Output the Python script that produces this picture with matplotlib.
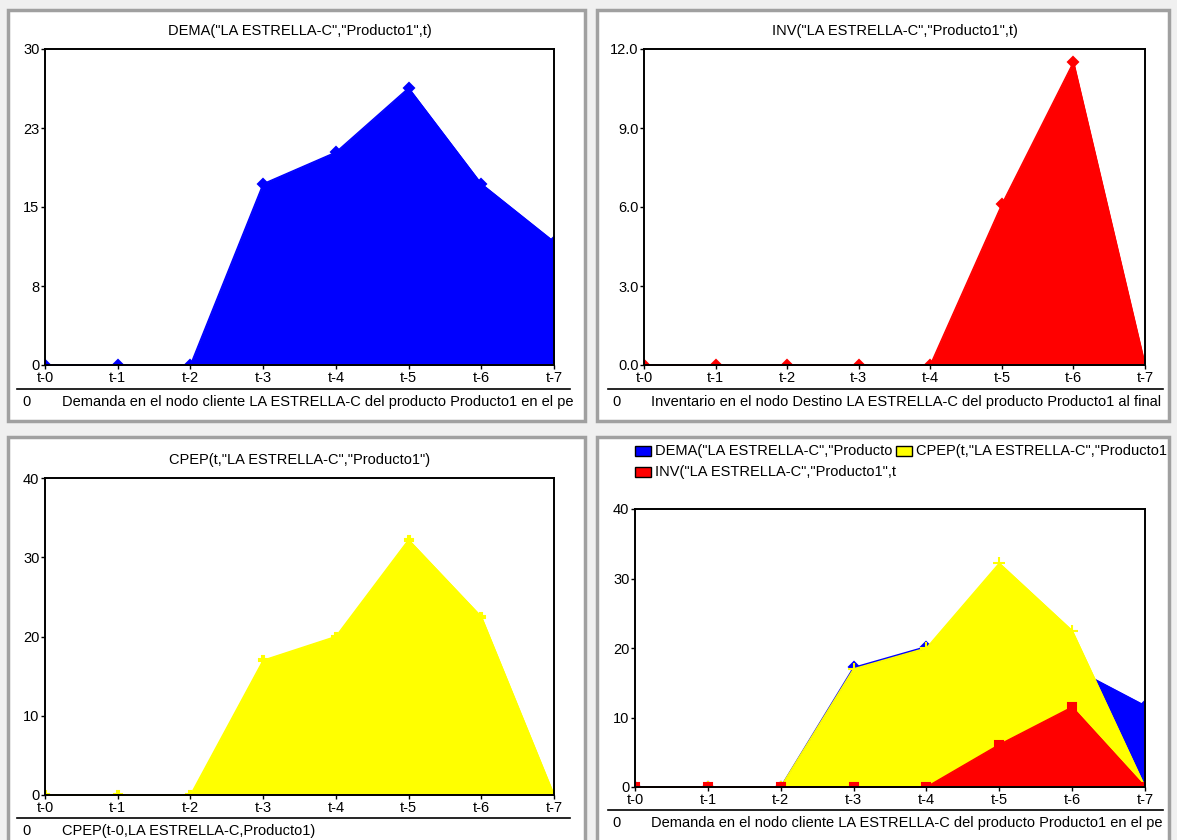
import matplotlib
matplotlib.use("Agg")
import matplotlib.pyplot as plt
from matplotlib.patches import Rectangle
from matplotlib.lines import Line2D

plt.rcParams['font.family'] = ['Liberation Sans', 'DejaVu Sans']

# datos (periodos t-0 .. t-7)
periodos = ["t-0", "t-1", "t-2", "t-3", "t-4", "t-5", "t-6", "t-7"]
dema = [0, 0, 0, 17.2, 20.2, 26.3, 17.2, 11.7]
inv = [0, 0, 0, 0, 0, 6.1, 11.5, 0]
cpep = [0, 0, 0, 17.0, 20.0, 32.2, 22.5, 0]

W, H = 1177, 840
FS = 10.5
fig = plt.figure(figsize=(W / 100, H / 100), dpi=100)
fig.patch.set_facecolor('#f0f0f0')


def fx(x):
    return x / W


def fy(y):
    return 1 - y / H


def panel(l, t, r, b):
    # ventana blanca con borde gris
    fig.add_artist(Rectangle((fx(l), fy(b)), fx(r - l), (b - t) / H,
                             transform=fig.transFigure, facecolor='white',
                             edgecolor='#a0a0a0', linewidth=2.5, zorder=-5))


def px_axes(l, t, r, b):
    ax = fig.add_axes([fx(l), fy(b), fx(r - l), (b - t) / H])
    ax.set_facecolor('white')
    for s in ax.spines.values():
        s.set_linewidth(1.4)
        s.set_color('black')
        s.set_zorder(20)
    ax.set_xlim(0, len(periodos) - 1)
    ax.set_xticks(range(len(periodos)))
    ax.set_xticklabels(periodos)
    ax.tick_params(length=3, width=1, labelsize=FS, pad=1)
    return ax


def serie(ax, vals, color, marker, ms=6, z=1):
    x = list(range(len(vals)))
    ax.fill_between(x, 0, vals, color=color, linewidth=0.8, edgecolor=color,
                    zorder=z)
    ax.plot(x, vals, color=color, linewidth=1, marker=marker, markersize=ms,
            markeredgecolor=color, markerfacecolor=color, markeredgewidth=1.5,
            zorder=z + 0.5)


def pie(x0, x1, y_line, y_text, x_zero, x_txt, texto):
    fig.add_artist(Line2D([fx(x0), fx(x1)], [fy(y_line), fy(y_line)],
                          transform=fig.transFigure, color='black', linewidth=1.2))
    fig.text(fx(x_zero), fy(y_text), "0", fontsize=FS, va='center')
    fig.text(fx(x_txt), fy(y_text), texto, fontsize=FS, va='center')


# paneles
panel(8, 10, 585, 421)
panel(597, 10, 1169, 421)
panel(8, 437, 585, 845)
panel(597, 437, 1169, 845)

# 1. DEMA
ax1 = px_axes(45, 49, 554, 365)
serie(ax1, dema, 'blue', 'D', 5)
ax1.set_ylim(0, 30)
ax1.set_yticks([0, 7.5, 15, 22.5, 30])
ax1.set_yticklabels(["0", "8", "15", "23", "30"])
ax1.set_title('DEMA("LA ESTRELLA-C","Producto1",t)', fontsize=FS, pad=10)
pie(17, 570, 389, 402, 22, 62,
    "Demanda en el nodo cliente LA ESTRELLA-C del producto Producto1 en el pe")

# 2. INV
ax2 = px_axes(644, 49, 1145, 365)
serie(ax2, inv, 'red', 'D', 5)
ax2.set_ylim(0, 12)
ax2.set_yticks([0, 3, 6, 9, 12])
ax2.set_yticklabels(["0.0", "3.0", "6.0", "9.0", "12.0"])
ax2.set_title('INV("LA ESTRELLA-C","Producto1",t)', fontsize=FS, pad=10)
pie(608, 1163, 389, 402, 612, 651,
    "Inventario en el nodo Destino LA ESTRELLA-C del producto Producto1 al final")

# 3. CPEP
ax3 = px_axes(45, 478, 554, 795)
serie(ax3, cpep, 'yellow', 'P', 6)
ax3.set_ylim(0, 40)
ax3.set_yticks([0, 10, 20, 30, 40])
ax3.set_title('CPEP(t,"LA ESTRELLA-C","Producto1")', fontsize=FS, pad=10)
pie(17, 570, 818, 831, 22, 62, "CPEP(t-0,LA ESTRELLA-C,Producto1)")

# 4. combinado
ax4 = px_axes(635, 509, 1145, 787)
serie(ax4, dema, 'blue', 'D', 5, z=1)
serie(ax4, cpep, 'yellow', '+', 9, z=3)
serie(ax4, inv, 'red', 's', 6, z=5)
ax4.set_ylim(0, 40)
ax4.set_yticks([0, 10, 20, 30, 40])
pie(608, 1163, 810, 823, 612, 651,
    "Demanda en el nodo cliente LA ESTRELLA-C del producto Producto1 en el pe")

leyenda = [
    (635, 451, 'blue', 'DEMA("LA ESTRELLA-C","Producto'),
    (896, 451, 'yellow', 'CPEP(t,"LA ESTRELLA-C","Producto1'),
    (635, 472, 'red', 'INV("LA ESTRELLA-C","Producto1",t'),
]
for lx, ly, c, txt in leyenda:
    fig.add_artist(Rectangle((fx(lx), fy(ly + 5)), fx(16), 10 / H,
                             transform=fig.transFigure, facecolor=c,
                             edgecolor='black', linewidth=1))
    fig.text(fx(lx + 20), fy(ly), txt, fontsize=FS, va='center')

fig.savefig("out.png", dpi=100, facecolor=fig.get_facecolor())
